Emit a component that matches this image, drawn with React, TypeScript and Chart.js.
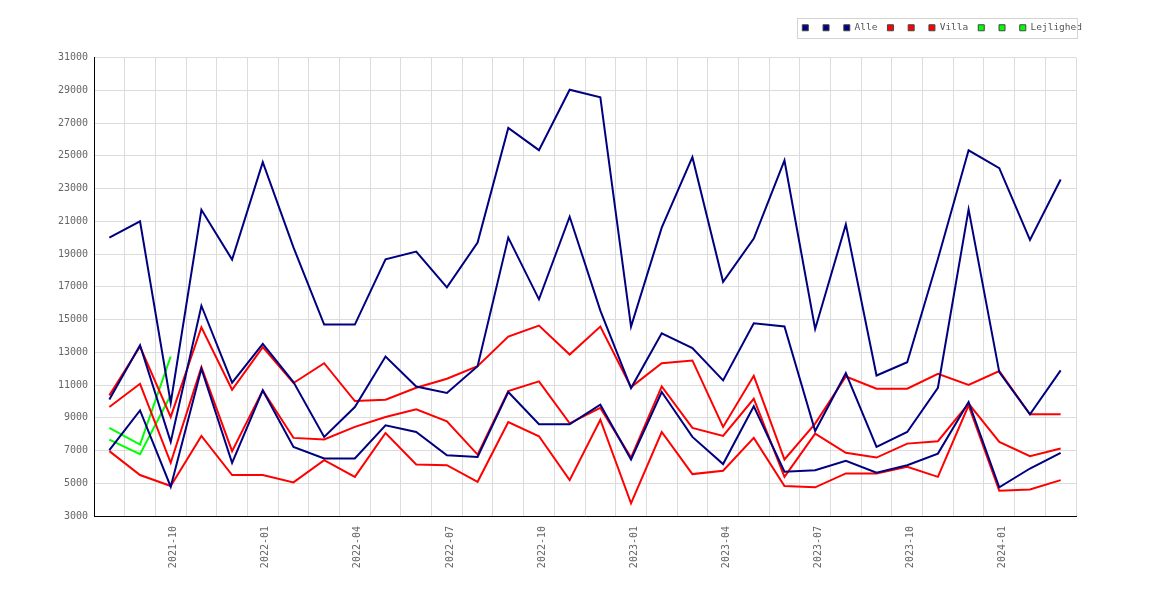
import React, { useEffect, useRef } from 'react';
import { Chart, registerables } from 'chart.js';

Chart.register(...registerables);

const months = [
  '2021-08', '2021-09', '2021-10', '2021-11', '2021-12',
  '2022-01', '2022-02', '2022-03', '2022-04', '2022-05', '2022-06',
  '2022-07', '2022-08', '2022-09', '2022-10', '2022-11', '2022-12',
  '2023-01', '2023-02', '2023-03', '2023-04', '2023-05', '2023-06',
  '2023-07', '2023-08', '2023-09', '2023-10', '2023-11', '2023-12',
  '2024-01', '2024-02', '2024-03',
];

const alleLow = [
  7020, 9450, 4790, 11990, 6250, 10670, 7220, 6510, 6510, 8540, 8130,
  6710, 6610, 10570, 8600, 8600, 9800, 6450, 10570, 7830, 6170, 9700,
  5700, 5800, 6370, 5640, 6100, 6810, 9960, 4750, 5900, 6860,
];
const alleMid = [
  10120, 13430, 7525, 15840, 11140, 13510, 11180, 7830, 9655, 12740, 10910,
  10510, 12150, 20000, 16230, 21280, 15540, 10810, 14160, 13250, 11280, 14770,
  14570, 8190, 11720, 7220, 8130, 10830, 21730, 11790, 9210, 11890,
];
const alleHigh = [
  20000, 21000, 9900, 21700, 18660, 24610, 19400, 14690, 14690, 18680, 19150,
  16960, 19700, 26700, 25340, 29030, 28570, 14570, 20610, 24910, 17300, 19940,
  24710, 14420, 20810, 11580, 12390, 18700, 25330, 24240, 19860, 23550,
];

const villaLow = [
  6960, 5500, 4830, 7890, 5500, 5500, 5050, 6410, 5390, 8070, 6150,
  6100, 5090, 8740, 7870, 5190, 8880, 3770, 8130, 5560, 5760, 7770,
  4830, 4750, 5600, 5600, 6000, 5390, 9760, 4540, 4620, 5190,
];
const villaMid = [
  9655, 11075, 6250, 12090, 6960, 10670, 7770, 7670, 8440, 9050, 9510,
  8780, 6750, 10630, 11220, 8660, 9600, 6570, 10910, 8380, 7890, 10160,
  5390, 8030, 6860, 6570, 7420, 7570, 9860, 7520, 6650, 7120,
];
const villaHigh = [
  10365, 13350, 9050, 14525, 10710, 13310, 11120, 12330, 10020, 10100, 10830,
  11380, 12150, 13960, 14630, 12860, 14570, 10870, 12330, 12500, 8440, 11560,
  6450, 8640, 11520, 10770, 10770, 11680, 11010, 11850, 9210, 9210,
];

const lejlLow = [7670, 6780, 10370];
const lejlMid: (number | null)[] = [];
const lejlHigh = [8380, 7360, 12740];

const legendLabels = ['', '', 'Alle', '', '', 'Villa', '', '', 'Lejlighed'];
const quarterMonths = ['01', '04', '07', '10'];

const NAVY = '#000080';
const RED = '#ff0000';
const GREEN = '#00ff00';

const legendBorder = {
  id: 'legendBorder',
  afterDraw(chart: any) {
    const hb = chart.legend && chart.legend.legendHitBoxes;
    if (!hb || !hb.length) return;
    const first = hb[0];
    const last = hb[hb.length - 1];
    const l = Math.round(first.left - 5) + 0.5;
    const t = Math.round(first.top - 5) + 0.5;
    const r = Math.round(last.left + last.width - 5) + 0.5;
    const b = Math.round(first.top + first.height + 5) + 0.5;
    const ctx = chart.ctx;
    ctx.save();
    ctx.strokeStyle = '#d4d4d4';
    ctx.lineWidth = 1;
    ctx.strokeRect(l, t, r - l, b - t);
    ctx.restore();
  },
};

export default function App() {
  const ref = useRef<HTMLCanvasElement>(null);

  useEffect(() => {
    if (!ref.current) return;
    const font = { family: "'DejaVu Sans Mono', monospace", size: 10 };
    const legendFont = { family: "'DejaVu Sans Mono', monospace", size: 9.5 };
    const mk = (label: string, data: (number | null)[], color: string) => ({
      label,
      data,
      borderColor: color,
      backgroundColor: color,
      borderWidth: 2,
      pointRadius: 0,
      pointHoverRadius: 0,
      tension: 0,
      fill: false,
    });
    const series = [
      [alleLow, NAVY], [alleMid, NAVY], [alleHigh, NAVY],
      [villaLow, RED], [villaMid, RED], [villaHigh, RED],
      [lejlLow, GREEN], [lejlMid, GREEN], [lejlHigh, GREEN],
    ] as [(number | null)[], string][];

    const chart = new Chart(ref.current, {
      type: 'line',
      data: {
        labels: months,
        datasets: series.map(([d, c], i) => mk(legendLabels[i], d, c)),
      },
      plugins: [legendBorder],
      options: {
        animation: false,
        responsive: true,
        maintainAspectRatio: false,
        layout: { padding: { top: 13, right: 78, bottom: 0, left: 0 } },
        plugins: {
          tooltip: { enabled: false },
          legend: {
            position: 'top',
            align: 'end',
            labels: {
              font: legendFont,
              color: '#555',
              boxWidth: 6,
              boxHeight: 6,
              padding: 10,
              generateLabels: (c: any) =>
                Chart.defaults.plugins.legend.labels
                  .generateLabels(c)
                  .map((it: any) => ({ ...it, strokeStyle: '#444', lineWidth: 1 })),
            },
          },
          subtitle: {
            display: true,
            text: '',
            position: 'top',
            weight: 500,
            font: { size: 10, lineHeight: 1.2 },
            padding: { top: 1.5, bottom: 1.5 },
          } as any,
        },
        scales: {
          x: {
            offset: true,
            grid: { offset: true, color: '#dcdcdc', drawTicks: false },
            border: { color: '#000', width: 1 },
            ticks: {
              autoSkip: false,
              minRotation: 90,
              maxRotation: 90,
              padding: 10,
              labelOffset: 3,
              color: '#666',
              font,
              callback: (_v: any, idx: number) => {
                const m = months[idx];
                return quarterMonths.includes(m.slice(5)) ? m : '';
              },
            },
            afterFit: (s: any) => {
              s.height = 84;
              s.paddingRight = 94;
            },
          },
          y: {
            min: 3000,
            max: 31000,
            grid: { color: '#dcdcdc', drawTicks: false },
            border: { color: '#000', width: 1 },
            ticks: {
              stepSize: 2000,
              padding: 6,
              color: '#666',
              font,
              callback: (v: any) => String(v),
            },
            afterFit: (s: any) => {
              s.width = 94;
            },
          },
        },
      },
    } as any);
    return () => chart.destroy();
  }, []);

  return (
    <div style={{ position: 'fixed', left: 0, top: 0, width: 1170, height: 600, background: '#fff' }}>
      <canvas ref={ref} />
    </div>
  );
}
